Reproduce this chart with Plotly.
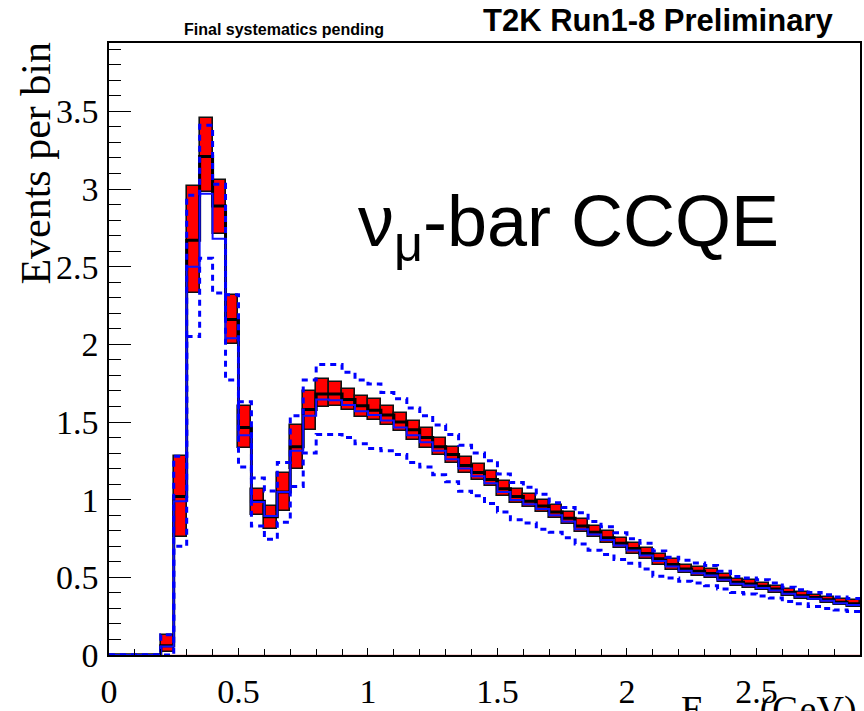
import numpy as np
import plotly.graph_objects as go

# ---- data (bins of 0.05 GeV from 0 to 2.9) ----
bin_width = 0.05
bin_lo = np.round(np.arange(0.0, 2.9, bin_width), 2)

band_hi = [0, 0, 0, 0, 0.13, 1.28, 3.02, 3.46, 3.06, 2.32, 1.605, 1.07, 0.96, 1.17, 1.48, 1.70,
           1.775, 1.76, 1.71, 1.67, 1.645, 1.605, 1.56, 1.505, 1.46, 1.40, 1.34, 1.275, 1.227,
           1.185, 1.12, 1.067, 1.035, 1.00, 0.965, 0.92, 0.877, 0.83, 0.80, 0.755, 0.72, 0.69,
           0.653, 0.615, 0.582, 0.567, 0.554, 0.524, 0.49, 0.48, 0.464, 0.446, 0.425, 0.403,
           0.388, 0.373, 0.36, 0.351]
band_lo = [0, 0, 0, 0, 0.02, 0.76, 2.33, 2.98, 2.71, 2.005, 1.33, 0.90, 0.81, 0.93, 1.195, 1.45,
           1.595, 1.60, 1.58, 1.535, 1.51, 1.48, 1.44, 1.385, 1.335, 1.29, 1.235, 1.17, 1.125,
           1.085, 1.025, 0.98, 0.955, 0.92, 0.885, 0.845, 0.79, 0.76, 0.72, 0.686, 0.653, 0.62,
           0.582, 0.55, 0.528, 0.511, 0.496, 0.47, 0.446, 0.43, 0.416, 0.40, 0.382, 0.362,
           0.351, 0.338, 0.323, 0.312]
central = [0, 0, 0, 0, 0.06, 1.02, 2.67, 3.21, 2.89, 2.16, 1.465, 0.99, 0.89, 1.05, 1.34, 1.58,
           1.68, 1.68, 1.645, 1.605, 1.575, 1.545, 1.50, 1.45, 1.40, 1.34, 1.29, 1.22, 1.175,
           1.13, 1.07, 1.02, 0.99, 0.96, 0.92, 0.88, 0.83, 0.79, 0.755, 0.72, 0.686, 0.653,
           0.62, 0.582, 0.554, 0.539, 0.524, 0.496, 0.468, 0.457, 0.442, 0.425, 0.403, 0.382,
           0.37, 0.356, 0.34, 0.33]
nominal = [0, 0, 0, 0, 0.055, 0.99, 2.50, 2.97, 2.68, 2.04, 1.415, 0.985, 0.895, 1.05, 1.315, 1.54,
           1.645, 1.64, 1.61, 1.57, 1.545, 1.51, 1.465, 1.415, 1.37, 1.315, 1.26, 1.20, 1.15,
           1.105, 1.05, 0.998, 0.97, 0.94, 0.90, 0.86, 0.81, 0.775, 0.74, 0.705, 0.672, 0.64,
           0.605, 0.57, 0.542, 0.527, 0.512, 0.485, 0.458, 0.447, 0.432, 0.416, 0.395, 0.375,
           0.362, 0.349, 0.333, 0.322]
dashed_up = [0, 0, 0, 0, 0.13, 1.28, 2.96, 3.41, 3.03, 2.32, 1.63, 1.14, 1.056, 1.24, 1.54, 1.77,
             1.87, 1.87, 1.82, 1.77, 1.745, 1.69, 1.65, 1.59, 1.54, 1.48, 1.42, 1.35, 1.30,
             1.25, 1.165, 1.11, 1.08, 1.035, 0.98, 0.95, 0.915, 0.86, 0.825, 0.787, 0.748, 0.72,
             0.67, 0.63, 0.61, 0.593, 0.576, 0.539, 0.506, 0.496, 0.485, 0.464, 0.436, 0.42,
             0.403, 0.388, 0.373, 0.364]
dashed_dn = [0, 0, 0, 0, 0.0, 0.70, 2.05, 2.555, 2.33, 1.77, 1.21, 0.83, 0.745, 0.855, 1.085, 1.30,
             1.42, 1.42, 1.40, 1.36, 1.33, 1.315, 1.29, 1.24, 1.21, 1.16, 1.115, 1.055, 1.025,
             0.975, 0.92, 0.87, 0.85, 0.81, 0.79, 0.755, 0.715, 0.675, 0.647, 0.615, 0.59, 0.554,
             0.507, 0.496, 0.474, 0.464, 0.446, 0.425, 0.403, 0.392, 0.38, 0.367, 0.345, 0.33,
             0.312, 0.30, 0.29, 0.28]

x_ticks = [0, 0.5, 1, 1.5, 2, 2.5]
x_ticklabels = ["0", "0.5", "1", "1.5", "2", "2.5"]
y_ticks = [0, 0.5, 1, 1.5, 2, 2.5, 3, 3.5]
y_ticklabels = ["0", "0.5", "1", "1.5", "2", "2.5", "3", "3.5"]

x_max = 2.9
y_max = 3.94

# ---- helpers ----
edges = list(bin_lo) + [round(bin_lo[-1] + bin_width, 2)]
centers = [b + bin_width / 2 for b in bin_lo]


def step(vals):
    return list(vals) + [vals[-1]]


fig = go.Figure()

# faint line at zero
fig.add_trace(go.Scatter(x=[0, x_max], y=[0, 0], mode="lines",
                         line=dict(color="rgba(240,150,150,0.8)", width=1), hoverinfo="skip"))

# red error boxes
fig.add_trace(go.Bar(x=centers, y=[h - l for h, l in zip(band_hi, band_lo)], base=band_lo,
                     width=bin_width, marker=dict(color="#ff0000", line=dict(color="#111111", width=1.6))))

# black central histogram
fig.add_trace(go.Scatter(x=edges, y=step(central), mode="lines", line_shape="hv",
                         line=dict(color="black", width=3)))
# blue nominal histogram
fig.add_trace(go.Scatter(x=edges, y=step(nominal), mode="lines", line_shape="hv",
                         line=dict(color="#1010ff", width=2)))
# dashed bounds
fig.add_trace(go.Scatter(x=edges, y=step(dashed_up), mode="lines", line_shape="hv",
                         line=dict(color="#0000ff", width=3, dash="6px,5px")))
fig.add_trace(go.Scatter(x=edges, y=step(dashed_dn), mode="lines", line_shape="hv",
                         line=dict(color="#0000ff", width=3, dash="6px,5px")))

serif = "Liberation Serif, Times New Roman, serif"
sans = "Liberation Sans, Arial, Helvetica, sans-serif"

fig.update_layout(
    width=864, height=711,
    margin=dict(l=109, r=4, t=43, b=56, autoexpand=False),
    paper_bgcolor="white", plot_bgcolor="white",
    showlegend=False, barmode="overlay", bargap=0,
    xaxis=dict(range=[0, x_max], showgrid=False, zeroline=False, automargin=False,
               showline=True, linecolor="black", linewidth=1.5, mirror=True,
               ticks="inside", ticklen=7, tickwidth=1.3, tickcolor="black",
               tickvals=x_ticks, ticktext=x_ticklabels, ticklabelstandoff=5,
               minor=dict(dtick=0.1, ticks="inside", ticklen=6, tickcolor="black", tickwidth=1.3),
               tickfont=dict(family=serif, size=34, color="black")),
    yaxis=dict(range=[0, y_max], showgrid=False, zeroline=False, automargin=False,
               showline=True, linecolor="black", linewidth=1.5, mirror=True,
               ticks="inside", ticklen=22, tickwidth=1.3, tickcolor="black",
               tickvals=y_ticks, ticktext=y_ticklabels, ticklabelstandoff=2,
               minor=dict(dtick=0.1, ticks="inside", ticklen=12, tickcolor="black", tickwidth=1.3),
               tickfont=dict(family=serif, size=34, color="black")),
    annotations=[
        dict(text="Events per bin", xref="paper", yref="paper", x=-0.097, y=1.005,
             xanchor="center", yanchor="top", textangle=-90, showarrow=False,
             font=dict(family=serif, size=42, color="black")),
        dict(text="E<sub>reco</sub> (GeV)", xref="paper", yref="paper", x=0.999, y=-0.051,
             xanchor="right", yanchor="top", showarrow=False,
             font=dict(family=serif, size=38, color="black")),
        dict(text="<b>Final systematics pending</b>", xref="paper", yref="paper", x=0.233, y=1.022,
             xanchor="center", yanchor="middle", showarrow=False,
             font=dict(family=sans, size=16, color="black")),
        dict(text="<b>T2K Run1-8 Preliminary</b>", xref="paper", yref="paper", x=0.731, y=1.036,
             xanchor="center", yanchor="middle", showarrow=False,
             font=dict(family=sans, size=31, color="black")),
        dict(text="ν<sub>μ</sub>-bar CCQE", xref="paper", yref="paper", x=0.329, y=0.70,
             xanchor="left", yanchor="middle", showarrow=False,
             font=dict(family=sans, size=72, color="black")),
    ],
)

fig.write_html("out.html")
